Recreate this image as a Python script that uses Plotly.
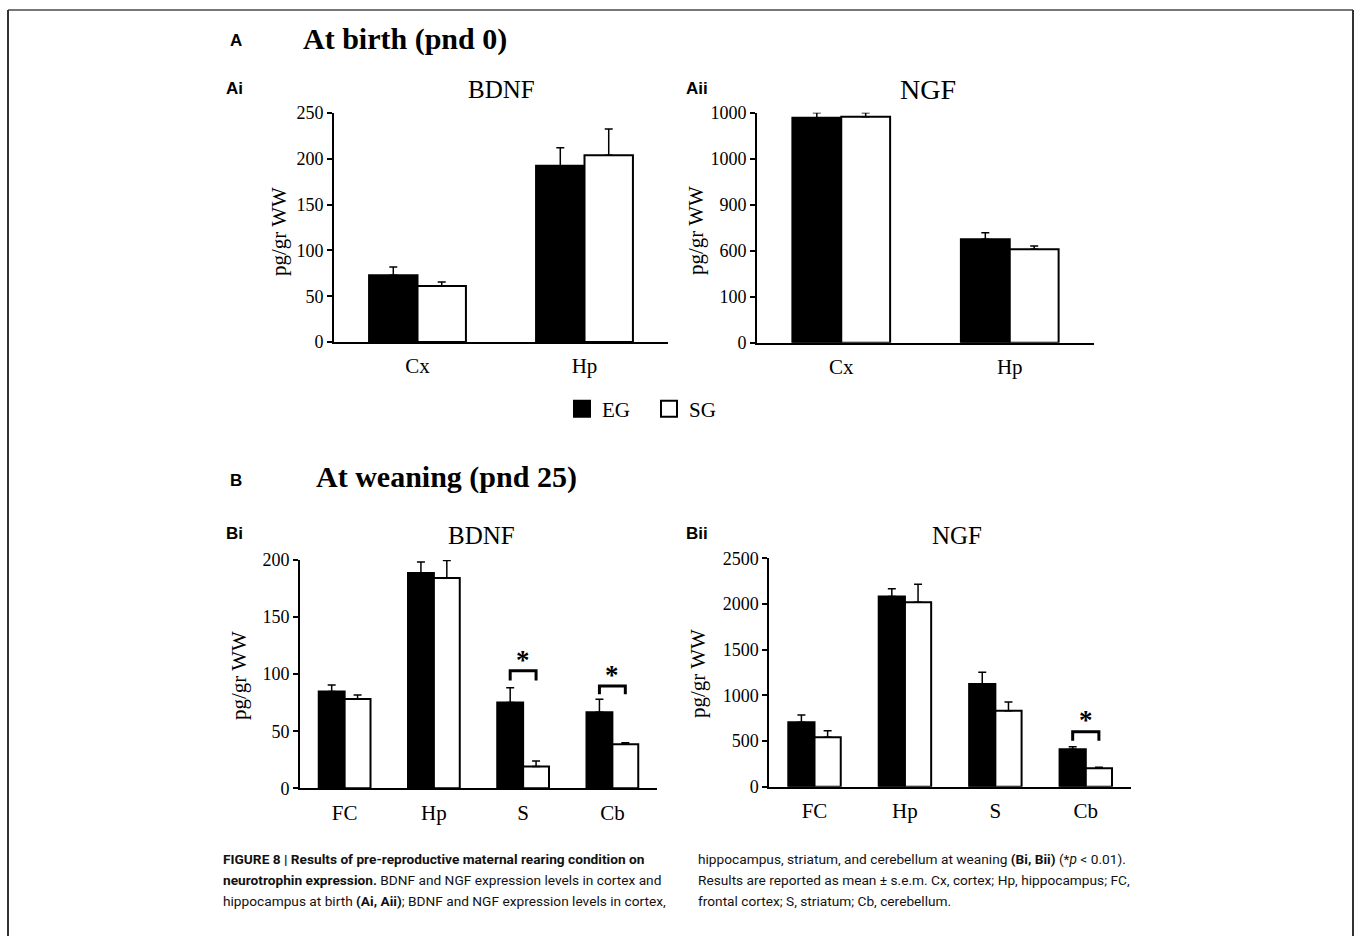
import plotly.graph_objects as go

W, H = 1355, 936

def px(x):
    return x / W

def py(y):
    return 1 - y / H

# ---------------- data ----------------
groups = ["EG", "SG"]
birth_regions = ["Cx", "Hp"]
wean_regions = ["FC", "Hp", "S", "Cb"]

# At birth, BDNF (pg/gr WW)
bdnf_birth_eg = [73, 192.5]
bdnf_birth_eg_err = [9, 19.5]
bdnf_birth_sg = [61, 204]
bdnf_birth_sg_err = [4.5, 28.5]

# At birth, NGF (plotted on the figure's own, non-linear tick scale)
ngf_birth_tick_pos = [0, 1, 2, 3, 4, 5]
ngf_birth_tick_text = ["0", "100", "600", "900", "1000", "1000"]
ngf_birth_eg = [4.89, 2.25]
ngf_birth_eg_err = [0.11, 0.14]
ngf_birth_sg = [4.91, 2.03]
ngf_birth_sg_err = [0.09, 0.07]

# At weaning, BDNF
bdnf_wean_eg = [84.7, 188.6, 75.1, 66.7]
bdnf_wean_eg_err = [5.9, 9.6, 12.9, 11.3]
bdnf_wean_sg = [78.3, 184.2, 19.0, 38.6]
bdnf_wean_sg_err = [3.5, 15.4, 5.0, 1.4]

# At weaning, NGF
ngf_wean_eg = [705, 2081, 1125, 409]
ngf_wean_eg_err = [80, 87, 128, 29]
ngf_wean_sg = [541, 2019, 832, 201]
ngf_wean_sg_err = [72, 197, 95, 11]

# significance brackets: (category index, bracket top, leg bottom, star y)
bdnf_wean_sig = [(2, 103, 94.5, 112), (3, 89.7, 82.4, 99)]
ngf_wean_sig = [(3, 602, 504, 725)]

SERIF = "Liberation Serif, Times New Roman, serif"
SANS = "Liberation Sans, Arial, sans-serif"
group_colors = {"EG": "black", "SG": "white"}

fig = go.Figure()

panels = [
    ("", birth_regions, bdnf_birth_eg, bdnf_birth_eg_err, bdnf_birth_sg, bdnf_birth_sg_err,
     (334, 668), (113, 342), [0, 250], [0, 50, 100, 150, 200, 250], None),
    ("2", birth_regions, ngf_birth_eg, ngf_birth_eg_err, ngf_birth_sg, ngf_birth_sg_err,
     (757, 1094), (112.7, 342.7), [0, 5], ngf_birth_tick_pos, ngf_birth_tick_text),
    ("3", wean_regions, bdnf_wean_eg, bdnf_wean_eg_err, bdnf_wean_sg, bdnf_wean_sg_err,
     (300, 657), (560, 788.3), [0, 200], [0, 50, 100, 150, 200], None),
    ("4", wean_regions, ngf_wean_eg, ngf_wean_eg_err, ngf_wean_sg, ngf_wean_sg_err,
     (769.3, 1131), (558.3, 786.7), [0, 2500], [0, 500, 1000, 1500, 2000, 2500], None),
]

layout_axes = {}
for i, (aid, cats, eg, egerr, sg, sgerr, xd, yd, yr, tv, tt) in enumerate(panels):
    xa = "x" + aid
    ya = "y" + aid
    for name, vals, errs in (("EG", eg, egerr), ("SG", sg, sgerr)):
        fig.add_trace(go.Bar(
            x=cats, y=vals, name=name, xaxis=xa, yaxis=ya,
            marker=dict(color=group_colors[name], line=dict(color="black", width=2)),
            error_y=dict(type="data", symmetric=False, array=errs,
                         arrayminus=[0] * len(errs), color="black",
                         thickness=1.5, width=4),
            showlegend=False, legendgroup=name,
        ))
    layout_axes["xaxis" + aid] = dict(
        domain=[px(xd[0]), px(xd[1])], anchor=ya, type="category",
        range=[-0.5, len(cats) - 0.5], showline=True, linecolor="black", linewidth=2,
        ticks="", showgrid=False, zeroline=False, automargin=False,
        ticklabelstandoff=4,
        tickfont=dict(family=SERIF, size=21, color="black"),
    )
    ydict = dict(
        domain=[py(yd[1]), py(yd[0])], anchor=xa, range=yr,
        showline=True, linecolor="black", linewidth=2,
        ticks="outside", ticklen=5, tickwidth=1.5, tickcolor="black",
        tickvals=tv, showgrid=False, zeroline=False, automargin=False,
        tickfont=dict(family=SERIF, size=18, color="black"),
    )
    if tt is not None:
        ydict["ticktext"] = tt
    layout_axes["yaxis" + aid] = ydict

# legend entries (larger square swatches)
for name in groups:
    fig.add_trace(go.Scatter(
        x=[None], y=[None], mode="markers", name=name, legendgroup=name,
        marker=dict(symbol="square", size=16, color=group_colors[name],
                    line=dict(color="black", width=2)),
        showlegend=True, hoverinfo="skip",
    ))

fig.update_layout(**layout_axes)

shapes = []
annotations = []

bar_half = (1 - 0.42) / 4
for aid, sigs in (("3", bdnf_wean_sig), ("4", ngf_wean_sig)):
    for idx, top, bot, star in sigs:
        x0 = idx - bar_half
        x1 = idx + bar_half
        shapes.append(dict(
            type="path", xref="x" + aid, yref="y" + aid,
            path=f"M {x0},{bot} L {x0},{top} L {x1},{top} L {x1},{bot}",
            line=dict(color="black", width=3),
        ))
        annotations.append(dict(
            x=idx, y=star, xref="x" + aid, yref="y" + aid, text="<b>*</b>",
            showarrow=False, font=dict(family=SERIF, size=27, color="black"),
        ))

shapes += [
    dict(type="line", xref="paper", yref="paper", x0=px(8), x1=px(1353), y0=py(10), y1=py(10),
         line=dict(color="#777777", width=2)),
    dict(type="line", xref="paper", yref="paper", x0=px(8), x1=px(8), y0=py(10), y1=0,
         line=dict(color="#333333", width=2)),
    dict(type="line", xref="paper", yref="paper", x0=px(1353), x1=px(1353), y0=py(10), y1=0,
         line=dict(color="#333333", width=2)),
]

def txt(x, y, s, font, size, xanchor="left", bold=False, textangle=0, color="black"):
    annotations.append(dict(
        x=px(x), y=py(y), xref="paper", yref="paper", text=(f"<b>{s}</b>" if bold else s),
        showarrow=False, xanchor=xanchor, yanchor="middle", textangle=textangle,
        font=dict(family=font, size=size, color=color),
    ))

txt(228, 41, "A", SANS, 17, bold=True)
txt(301, 39, "At birth (pnd 0)", SERIF, 30, bold=True)
txt(228, 481, "B", SANS, 17, bold=True)
txt(314, 477, "At weaning (pnd 25)", SERIF, 30, bold=True)

txt(224, 88, "Ai", SANS, 17, bold=True)
txt(684, 88, "Aii", SANS, 17, bold=True)
txt(224, 533, "Bi", SANS, 17, bold=True)
txt(684, 533, "Bii", SANS, 17, bold=True)

txt(501, 89, "BDNF", SERIF, 25, xanchor="center")
txt(928, 89, "NGF", SERIF, 28, xanchor="center")
txt(481, 535, "BDNF", SERIF, 25, xanchor="center")
txt(957, 535, "NGF", SERIF, 25, xanchor="center")

for x, y in ((279, 232), (696, 231), (239, 676), (698, 674)):
    txt(x, y, "pg/gr WW", SERIF, 21, xanchor="center", textangle=-90)

CAP = "Roboto, Liberation Sans, Arial, sans-serif"
left_lines = [
    "<b>FIGURE 8 | Results of pre-reproductive maternal rearing condition on</b>",
    "<b>neurotrophin expression.</b> BDNF and NGF expression levels in cortex and",
    "hippocampus at birth <b>(Ai, Aii)</b>; BDNF and NGF expression levels in cortex,",
]
right_lines = [
    "hippocampus, striatum, and cerebellum at weaning <b>(Bi, Bii)</b> (*<i>p</i> &lt; 0.01).",
    "Results are reported as mean ± s.e.m. Cx, cortex; Hp, hippocampus; FC,",
    "frontal cortex; S, striatum; Cb, cerebellum.",
]
for k, s in enumerate(left_lines):
    txt(221, 859 + 21 * k, s, CAP, 13.7, color="#111111")
for k, s in enumerate(right_lines):
    txt(696, 859 + 21 * k, s, CAP, 13.7, color="#111111")

fig.update_layout(
    width=W, height=H, margin=dict(l=0, r=0, t=0, b=0, pad=0, autoexpand=False),
    paper_bgcolor="white", plot_bgcolor="white",
    barmode="group", bargap=0.42, bargroupgap=0,
    shapes=shapes, annotations=annotations,
    showlegend=True,
    legend=dict(orientation="h", x=px(562), y=py(409), xanchor="left", yanchor="middle",
                font=dict(family=SERIF, size=21, color="black"), bgcolor="rgba(0,0,0,0)",
                traceorder="normal", entrywidth=42, entrywidthmode="pixels"),
)

fig.write_html("out.html", config={"displayModeBar": False},
               post_script="document.body.style.margin='0';")
